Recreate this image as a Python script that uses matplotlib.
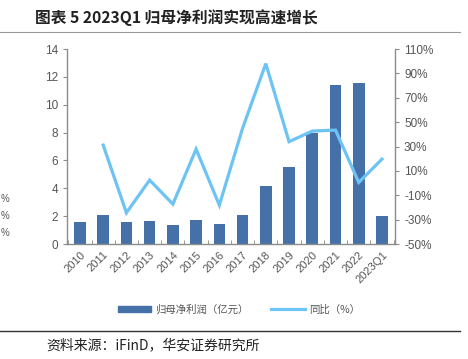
import matplotlib
matplotlib.use('Agg')
import matplotlib.pyplot as plt
from matplotlib.lines import Line2D
from matplotlib.patches import Patch
import numpy as np

plt.rcParams['font.family'] = ['Noto Sans CJK SC', 'DejaVu Sans']

years = ['2010', '2011', '2012', '2013', '2014', '2015', '2016', '2017',
         '2018', '2019', '2020', '2021', '2022', '2023Q1']
profit = [1.58, 2.08, 1.58, 1.63, 1.36, 1.72, 1.44, 2.08,
          4.14, 5.55, 8.0, 11.44, 11.56, 2.0]
yoy = [np.nan, 31.2, -24.3, 2.5, -17.2, 27.9, -18.0, 45.0,
       98.0, 34.0, 42.7, 43.5, 0.6, 19.7]

bar_color = '#4671A8'
line_color = '#6EC3F5'
grey = '#8c8c8c'
txt_grey = '#555555'
num_font = ['Liberation Sans', 'DejaVu Sans']

fig = plt.figure(figsize=(4.68, 3.59), dpi=100)
ax = fig.add_axes([0.143, 0.320, 0.701, 0.5435])
ax2 = ax.twinx()

x = np.arange(len(years))
ax.bar(x, profit, width=0.5, color=bar_color, zorder=2)
ax2.plot(x, yoy, color=line_color, lw=2.3, solid_joinstyle='miter', zorder=3)

ax.set_xlim(-0.56, len(years) - 0.44)
ax.set_ylim(0, 14)
ax.set_yticks(range(0, 15, 2))
ax2.set_ylim(-50, 110)
ax2.set_yticks(range(-50, 111, 20))
ax2.set_yticklabels(['%d%%' % v for v in range(-50, 111, 20)])

ax.set_xticks(x)
ax.set_xticklabels(years, rotation=45, ha='right', rotation_mode='anchor')
ax.set_xticks(np.arange(-0.5, len(years), 1), minor=True)
ax.tick_params(axis='x', which='major', length=0, pad=4,
               labelsize=8, labelcolor=txt_grey)
ax.tick_params(axis='x', which='minor', length=3, direction='in', color=grey)
ax.tick_params(axis='y', length=3, color=grey, labelsize=8.5, labelcolor=txt_grey)
ax2.tick_params(axis='y', length=3, color=grey, labelsize=8.5, labelcolor=txt_grey)
for lab in ax.get_xticklabels() + ax.get_yticklabels() + ax2.get_yticklabels():
    lab.set_family(num_font)

for a in (ax, ax2):
    for s in a.spines.values():
        s.set_visible(False)
ax.spines['left'].set_visible(True)
ax.spines['bottom'].set_visible(True)
ax2.spines['right'].set_visible(True)
for s in (ax.spines['left'], ax.spines['bottom'], ax2.spines['right']):
    s.set_color(grey)
    s.set_linewidth(1.0)

handles = [Patch(color=bar_color), Line2D([], [], color=line_color, lw=2.3)]
leg = fig.legend(handles, ['归母净利润（亿元）', '同比（%）'],
                 loc='center', bbox_to_anchor=(0.51, 0.138), ncol=2,
                 frameon=False, fontsize=7.5, handlelength=3.2,
                 handleheight=0.45, handletextpad=0.4, columnspacing=2.2)
for t in leg.get_texts():
    t.set_color(txt_grey)

fig.text(0.075, 0.952, '图表 5 2023Q1 归母净利润实现高速增长',
         fontsize=11.3, fontweight='bold', color='#222222', va='center')
fig.add_artist(Line2D([0.0, 0.983], [0.911, 0.911], color='#999999', lw=0.8))
fig.add_artist(Line2D([0.0, 0.983], [0.079, 0.079], color='#333333', lw=1.0))
fig.text(0.1, 0.038, '资料来源：iFinD，华安证券研究所',
         fontsize=10, color='#222222', va='center')

# labels of a neighbouring chart showing at the left edge
for yy in (0.445, 0.398, 0.351):
    fig.text(0.002, yy, '%', fontsize=7, color=txt_grey, va='center',
             family=num_font)

fig.savefig('out.png', dpi=100)
